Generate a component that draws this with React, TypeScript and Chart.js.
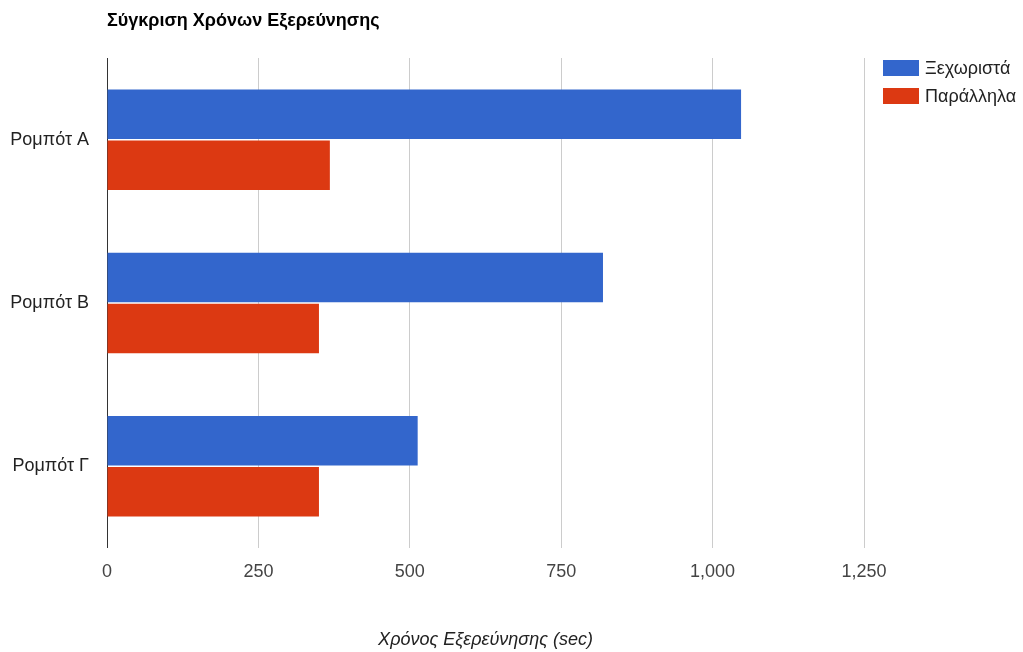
import React, { useEffect, useRef } from "react";
import { Chart, registerables } from "chart.js";

Chart.register(...registerables);

const categories = ["Ρομπότ Α", "Ρομπότ Β", "Ρομπότ Γ"];
const separateTimes = [1047, 819, 513];
const parallelTimes = [368, 350, 350];
const seriesNames = ["Ξεχωριστά", "Παράλληλα"];
const seriesColors = ["#3366cc", "#dc3912"];
const chartTitle = "Σύγκριση Χρόνων Εξερεύνησης";
const axisTitle = "Χρόνος Εξερεύνησης (sec)";

const FONT = "Arial, 'Liberation Sans', sans-serif";

export default function App() {
  const ref = useRef<HTMLCanvasElement | null>(null);

  useEffect(() => {
    if (!ref.current) return;
    const overlay = {
      id: "overlay",
      afterDraw(chart: any) {
        const c = chart.ctx;
        const area = chart.chartArea;
        c.save();
        c.textBaseline = "middle";
        // title
        c.fillStyle = "#000";
        c.font = `bold 18px ${FONT}`;
        c.textAlign = "left";
        c.fillText(chartTitle, area.left, 21);
        // axis title
        c.fillStyle = "#222";
        c.font = `italic 18px ${FONT}`;
        c.textAlign = "center";
        c.fillText(axisTitle, (area.left + area.right) / 2, 640);
        // legend
        c.font = `18px ${FONT}`;
        c.textAlign = "left";
        seriesNames.forEach((name, i) => {
          const y = 60 + i * 28;
          c.fillStyle = seriesColors[i];
          c.fillRect(883, y, 36, 16);
          c.fillStyle = "#222";
          c.fillText(name, 925, y + 9);
        });
        c.restore();
      },
    };
    const chart = new Chart(ref.current, {
      type: "bar",
      data: {
        labels: categories,
        datasets: [
          {
            label: seriesNames[0],
            data: separateTimes,
            backgroundColor: seriesColors[0],
            barPercentage: 0.97,
            categoryPercentage: 0.625,
          },
          {
            label: seriesNames[1],
            data: parallelTimes,
            backgroundColor: seriesColors[1],
            barPercentage: 0.97,
            categoryPercentage: 0.625,
          },
        ],
      },
      options: {
        indexAxis: "y",
        animation: false,
        responsive: false,
        layout: { padding: { top: 58, right: 159, left: 0, bottom: 0 } },
        plugins: {
          legend: { display: false },
          title: { display: false },
          tooltip: { enabled: false },
        },
        scales: {
          x: {
            min: 0,
            max: 1250,
            ticks: {
              stepSize: 250,
              color: "#444",
              font: { family: FONT, size: 18 },
              padding: 13,
              maxRotation: 0,
              callback: (v: any) => Number(v).toLocaleString("en-US"),
            },
            grid: {
              drawTicks: false,
              color: (ctx: any) => (ctx.tick && ctx.tick.value === 0 ? "#333" : "#ccc"),
              lineWidth: 1,
            },
            border: { display: false },
            afterFit: (s: any) => {
              s.height = 104;
            },
          },
          y: {
            ticks: {
              color: "#222",
              font: { family: FONT, size: 18 },
              padding: 18,
            },
            grid: { display: false, drawTicks: false },
            border: { display: false },
            afterFit: (s: any) => {
              s.width = 107;
            },
          },
        },
      },
      plugins: [overlay],
    } as any);
    return () => chart.destroy();
  }, []);

  return (
    <div style={{ position: "absolute", left: 0, top: 0, width: 1023, height: 652, background: "#fff" }}>
      <canvas ref={ref} width={1023} height={652} />
    </div>
  );
}
